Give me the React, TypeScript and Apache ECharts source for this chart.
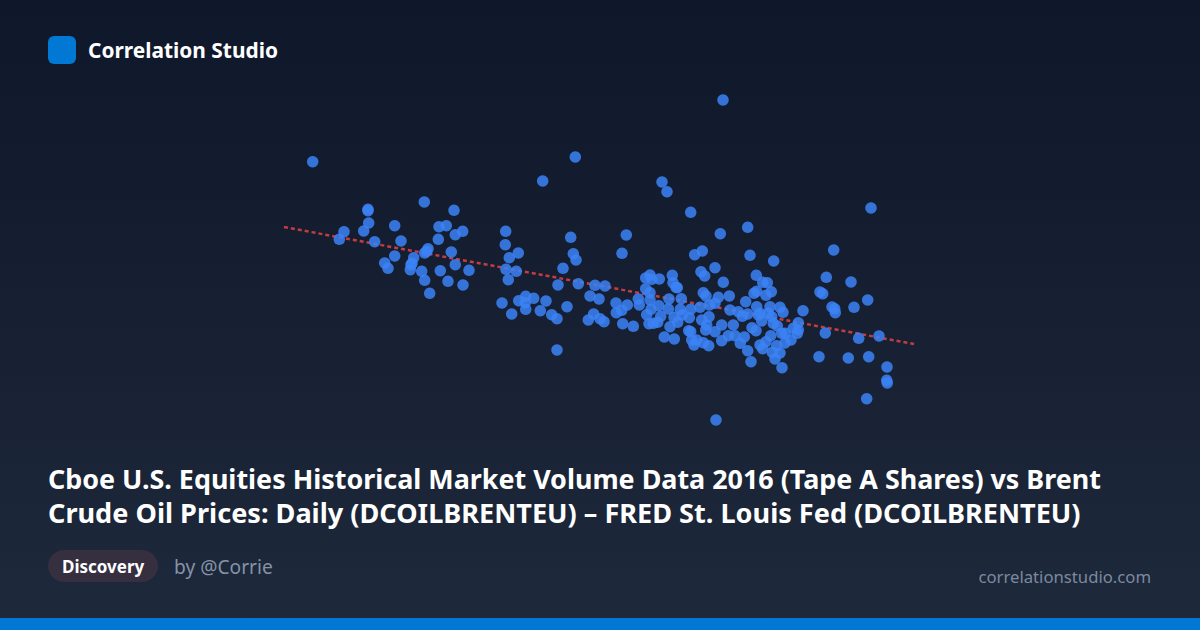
import { useEffect, useRef } from 'react';
import * as echarts from 'echarts';

const BRAND_NAME = 'Correlation Studio';
const TITLE_LINES = [
  'Cboe U.S. Equities Historical Market Volume Data 2016 (Tape A Shares) vs Brent',
  'Crude Oil Prices: Daily (DCOILBRENTEU) – FRED St. Louis Fed (DCOILBRENTEU)',
];
const TAG_LABEL = 'Discovery';
const AUTHOR_LABEL = 'by @Corrie';
const SITE_LABEL = 'correlationstudio.com';

const FONT = '"Noto Sans", sans-serif';

// values, the original has no axes so the units are relative
const X_RANGE = [0, 640];
const Y_RANGE = [0, 340];

const trendLine = [
  [4, 203],
  [634, 86],
];

const leftCluster = [
  [32.7, 268.3], [295.3, 273], [262.7, 249], [144.3, 228], [174, 219.7], [88, 220.7], [88, 219.3], [88.7, 207],
  [83.7, 199], [64, 198.3], [59.3, 190.7], [94.7, 188.3], [114.7, 204.3], [121, 189], [159, 203.3], [166.3, 204.3],
  [182.7, 198.7], [175.3, 195.3], [158.3, 190.7], [148, 181.3], [146.7, 178.7], [144.7, 177], [133.7, 172.3],
  [114.7, 174], [171.3, 178], [175.3, 165.3], [189, 159.7], [160.3, 159.3], [141.7, 158.7], [132, 166.7],
  [131, 165.3], [130.3, 160.3], [104.7, 167], [108, 161.7], [144.7, 149.7], [168, 148.7], [183, 145], [149.7, 136.7],
  [225.7, 198.7], [225.3, 185.3], [238.3, 177], [229.3, 172.3], [226, 160.7], [236.3, 158.7], [228.3, 150.3],
  [290.7, 192.7], [293.3, 176.3], [296, 170], [283, 161.7], [278, 145], [298.3, 146.3], [315, 144.7], [310, 134],
  [319, 131], [313.7, 116], [308.3, 110], [320, 111.3], [245.7, 133.7], [238.7, 129.3], [245.3, 127.3],
  [253.7, 131.7], [266, 129], [222, 127], [245.7, 120.7], [260.3, 119.3], [231.7, 116], [271.7, 115.3], [277, 111.3],
  [287, 123.3], [277, 80],
];

const middleCluster = [
  [387, 238.3], [382, 248], [410.7, 217.7], [467.7, 202.7], [440.3, 196.3], [346.3, 195], [342, 176.7], [470, 174.7],
  [414.7, 175.3], [422.3, 179], [435, 162.3], [421, 158.3], [424.7, 154], [443.3, 147.7], [476.3, 154.7], [370, 155],
  [365.7, 152], [371.7, 150.7], [379.3, 151], [392.3, 154.7], [393, 147.3], [396, 142.7], [397.3, 142.3],
  [365.7, 141.3], [325, 144], [370, 137.3], [370, 130], [358.3, 131], [359.3, 125], [347.3, 125], [336, 127],
  [341.7, 119.7], [336.3, 117.3], [324, 108.3], [342.7, 106.3], [353.3, 103.7], [389, 131], [401.3, 131.3],
  [378.7, 124.3], [371, 120.7], [388.3, 121], [366.7, 115.3], [380.7, 113.7], [369, 106.3], [373.3, 106.7],
  [377.7, 107.7], [390, 103.3], [394, 112.7], [397.7, 107.7], [400.3, 120.7], [402.3, 115], [409.3, 112.3],
  [410.7, 120.7], [420, 122.7], [421.7, 110], [423.3, 137.3], [426, 134], [429.3, 125], [438.3, 132.7], [449.3, 134],
  [435, 126.7], [429, 113.3], [450, 120], [465.7, 128.3], [474, 136.7], [476.7, 138.7], [458.3, 118.3], [462.3, 113.7],
  [467.7, 116], [476.7, 123.3], [478.3, 115], [384.3, 93], [394.3, 91], [408.7, 99.3], [410.7, 98.3], [411.7, 90],
  [416.7, 90], [414, 85], [425.7, 100], [426.7, 105], [435, 98.3], [441.7, 105], [423.3, 87.3], [428.7, 84.3],
  [441.7, 89.3], [448.3, 94.3], [453.3, 105], [455, 94.3], [464.3, 93], [460.3, 86.7], [467.7, 79.3], [471, 68.3],
  [472, 102.3], [476, 99.3], [443, 330], [436, 10],
];

const rightCluster = [
  [591, 222], [553.7, 180], [493.7, 169], [546.3, 152.7], [571, 148], [482.7, 147.7], [487.3, 147.3], [491.3, 138.3],
  [486, 134.7], [540, 138], [542.7, 136.3], [587.7, 130], [552, 123], [554.7, 121.3], [555.3, 117.3], [574, 122.7],
  [523, 119.3], [500, 122.7], [503, 117.7], [490, 123.3], [480, 116.7], [488.3, 116.7], [491.7, 113.3], [481.7, 109],
  [493.3, 106.7], [497.3, 104], [490.7, 94.3], [486, 88.3], [480, 85], [482.7, 81.3], [496.7, 84.3], [492.3, 77.7],
  [500, 77], [495, 71], [502, 62.3], [501.7, 96.7], [505, 96.7], [505, 87], [511, 90], [517.3, 96.7], [518.3, 100],
  [513.3, 101.7], [518.3, 107.3], [545.3, 97], [578.7, 91.7], [599, 94], [539, 73.3], [568.3, 72], [588.7, 73.3],
  [607, 63], [606.7, 49.7], [607.3, 47], [586.7, 31.3],
];

export default function App() {
  const chartRef = useRef<HTMLDivElement>(null);

  useEffect(() => {
    if (!chartRef.current) return;
    const chart = echarts.init(chartRef.current, undefined, { renderer: 'svg' });

    const option: echarts.EChartsOption = {
      animation: false,
      backgroundColor: {
        type: 'linear',
        x: 0,
        y: 0,
        x2: 0,
        y2: 1,
        colorStops: [
          { offset: 0, color: '#0f172a' },
          { offset: 1, color: '#1e293b' },
        ],
      },
      grid: { left: 280, top: 90, width: 640, height: 340 },
      xAxis: { type: 'value', min: X_RANGE[0], max: X_RANGE[1], show: false },
      yAxis: { type: 'value', min: Y_RANGE[0], max: Y_RANGE[1], show: false },
      series: [
        {
          type: 'line',
          data: trendLine,
          showSymbol: false,
          silent: true,
          z: 1,
          lineStyle: { color: '#ef4444', width: 2.5, opacity: 0.8, type: [4, 3] },
        },
        {
          type: 'scatter',
          data: [...leftCluster, ...middleCluster, ...rightCluster],
          symbolSize: 11.5,
          z: 2,
          itemStyle: { color: '#3b82f6', opacity: 0.85 },
        },
      ],
      graphic: [
        { type: 'rect', shape: { x: 48, y: 36, width: 28, height: 28, r: 6 }, style: { fill: '#0078d4' } },
        {
          type: 'text',
          x: 88,
          y: 50,
          style: {
            text: BRAND_NAME,
            fill: '#ffffff',
            font: `700 20.9px ${FONT}`,
            verticalAlign: 'middle',
          },
        },
        ...TITLE_LINES.map((line, i) => ({
          type: 'text' as const,
          x: 48,
          y: 478.5 + i * 34,
          style: {
            text: line,
            fill: '#ffffff',
            font: `700 ${i === 0 ? 26.9 : 27.1}px ${FONT}`,
            verticalAlign: 'middle' as const,
          },
        })),
        { type: 'rect', shape: { x: 48, y: 550, width: 110, height: 32, r: 16 }, style: { fill: '#352f3f' } },
        {
          type: 'text',
          x: 62,
          y: 566,
          style: {
            text: TAG_LABEL,
            fill: '#ffffff',
            font: `700 17px ${FONT}`,
            verticalAlign: 'middle',
          },
        },
        {
          type: 'text',
          x: 174,
          y: 566,
          style: {
            text: AUTHOR_LABEL,
            fill: '#8493a8',
            font: `400 19.2px ${FONT}`,
            verticalAlign: 'middle',
          },
        },
        {
          type: 'text',
          x: 1151,
          y: 576,
          style: {
            text: SITE_LABEL,
            fill: '#7b8aa0',
            font: `400 16.7px ${FONT}`,
            align: 'right',
            verticalAlign: 'middle',
          },
        },
        { type: 'rect', shape: { x: 0, y: 618, width: 1200, height: 12 }, style: { fill: '#0078d4' } },
      ],
    };

    chart.setOption(option);

    return () => {
      chart.dispose();
    };
  }, []);

  return <div ref={chartRef} style={{ position: 'fixed', left: 0, top: 0, width: 1200, height: 630 }} />;
}
